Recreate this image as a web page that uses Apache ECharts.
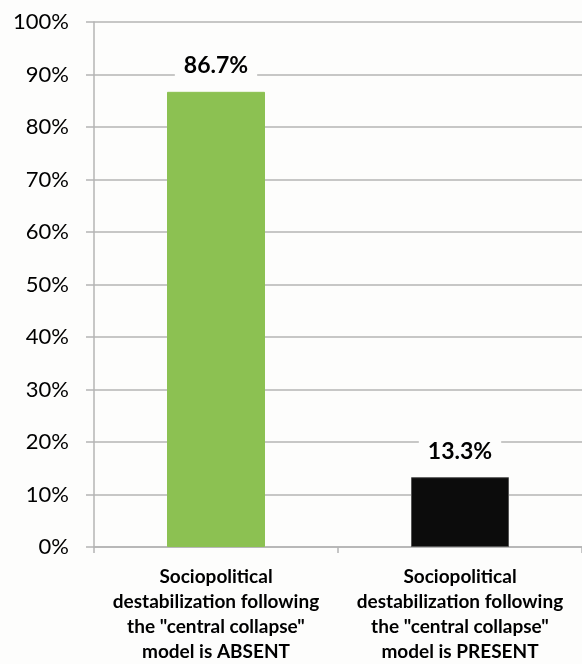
<!DOCTYPE html>
<html>
<head>
<meta charset="utf-8">
<style>
  html, body { margin: 0; padding: 0; background: #fdfdfc; }
  #chart { width: 582px; height: 664px; }
</style>
<script src="https://cdn.jsdelivr.net/npm/echarts@6/dist/echarts.min.js"></script>
</head>
<body>
<div id="chart"></div>
<script>
// Share of cases by whether "central collapse" destabilization occurs
const categories = [
  'Sociopolitical\ndestabilization following\nthe "central collapse"\nmodel is ABSENT',
  'Sociopolitical\ndestabilization following\nthe "central collapse"\nmodel is PRESENT'
];
const shares = [86.7, 13.3];
const barColors = ['#8cc152', '#0c0c0c'];
const yTicks = [0, 10, 20, 30, 40, 50, 60, 70, 80, 90, 100];

const chart = echarts.init(document.getElementById('chart'), null, { renderer: 'canvas' });

const gridColor = '#b4b4b4';
const font = 'Lato, "Open Sans", sans-serif';

chart.setOption({
  backgroundColor: '#fdfdfc',
  animation: false,
  grid: { left: 94, top: 22, height: 530, width: 496, containLabel: false },
  xAxis: {
    type: 'category',
    data: categories,
    axisLine: { show: true, lineStyle: { color: gridColor, width: 1.5 } },
    axisTick: { show: true, length: 6, alignWithLabel: false, lineStyle: { color: gridColor, width: 1.5 } },
    axisLabel: {
      interval: 0,
      margin: 17,
      color: '#000',
      fontFamily: font,
      fontWeight: 'bold',
      fontSize: 19,
      lineHeight: 25,
      align: 'center'
    }
  },
  yAxis: {
    type: 'value',
    min: yTicks[0],
    max: yTicks[yTicks.length - 1],
    interval: 10,
    axisLine: { show: true, lineStyle: { color: gridColor, width: 1.5 } },
    axisTick: { show: true, length: 8, lineStyle: { color: gridColor, width: 1.5 } },
    splitLine: { show: true, lineStyle: { color: gridColor, width: 1.5 } },
    axisLabel: {
      margin: 25,
      color: '#000',
      fontFamily: font,
      fontSize: 22,
      formatter: v => v + '%'
    }
  },
  series: [{
    type: 'bar',
    barWidth: 98,
    data: shares.map((v, i) => ({
      value: v,
      itemStyle: { color: barColors[i], borderColor: i === 1 ? '#555' : barColors[i], borderWidth: 1 }
    })),
    label: {
      show: true,
      position: 'top',
      distance: 10,
      formatter: p => p.value.toFixed(1) + '%',
      color: '#000',
      fontFamily: font,
      fontWeight: 'bold',
      fontSize: 23,
      lineHeight: 24,
      backgroundColor: '#fdfdfc',
      padding: [4, 9]
    }
  }]
});
</script>
</body>
</html>
